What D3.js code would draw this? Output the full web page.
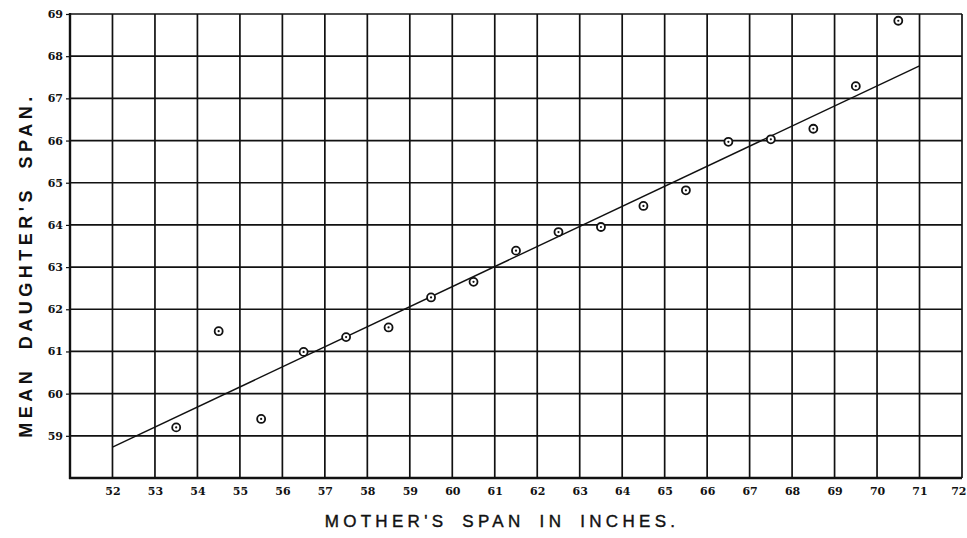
<!DOCTYPE html>
<html>
<head>
<meta charset="utf-8">
<script src="https://cdn.jsdelivr.net/npm/d3@7"></script>
<style>
  html, body { margin: 0; padding: 0; background: #fff; }
  svg { display: block; }
</style>
</head>
<body>
<script>
// Data
const motherSpan = [53.5, 54.5, 55.5, 56.5, 57.5, 58.5, 59.5, 60.5, 61.5, 62.5, 63.5, 64.5, 65.5, 66.5, 67.5, 68.5, 69.5, 70.5];
const daughterSpan = [59.20, 61.48, 59.40, 60.99, 61.34, 61.57, 62.28, 62.65, 63.39, 63.83, 63.95, 64.45, 64.82, 65.97, 66.03, 66.28, 67.29, 68.84];
const fitLineX = [52, 71];
const fitLineY = [58.73, 67.77];
const xTicks = [52, 53, 54, 55, 56, 57, 58, 59, 60, 61, 62, 63, 64, 65, 66, 67, 68, 69, 70, 71, 72];
const yTicks = [59, 60, 61, 62, 63, 64, 65, 66, 67, 68, 69];
const xTitle = "MOTHER'S SPAN IN INCHES.";
const yTitle = "MEAN DAUGHTER'S SPAN.";

const W = 967, H = 538;
const svg = d3.select("body").append("svg").attr("width", W).attr("height", H);

const x = d3.scaleLinear().domain([51, 72]).range([70, 962]);
const y = d3.scaleLinear().domain([58, 69]).range([478, 14]);

const ink = "#111";

// Grid lines
const g = svg.append("g");
g.selectAll("line.vx").data(xTicks).enter().append("line")
  .attr("x1", d => x(d)).attr("x2", d => x(d))
  .attr("y1", y(69)).attr("y2", y(58))
  .attr("stroke", ink).attr("stroke-width", 1.7);
g.selectAll("line.hy").data(yTicks).enter().append("line")
  .attr("x1", x(51)).attr("x2", x(72))
  .attr("y1", d => y(d)).attr("y2", d => y(d))
  .attr("stroke", ink).attr("stroke-width", 1.7);

// Border (left and bottom heavier)
svg.append("line").attr("x1", x(51)).attr("x2", x(51)).attr("y1", y(69) - 1).attr("y2", y(58) + 1)
  .attr("stroke", ink).attr("stroke-width", 2.4);
svg.append("line").attr("x1", x(51) - 1).attr("x2", x(72)).attr("y1", y(58)).attr("y2", y(58))
  .attr("stroke", ink).attr("stroke-width", 2.4);

// Axes (labels + short ticks)
const xAxis = d3.axisBottom(x).tickValues(xTicks).tickSize(0).tickPadding(9).tickFormat(d3.format("d"));
const xg = svg.append("g").attr("transform", `translate(0,${y(58)})`).call(xAxis);
xg.select(".domain").remove();
xg.selectAll("text").attr("font-family", "'DejaVu Serif', serif").attr("font-weight", "bold")
  .attr("font-size", 11).attr("fill", ink)
  .attr("text-anchor", d => d === 72 ? "end" : "middle")
  .attr("dx", d => d === 72 ? "4px" : 0);

const yAxis = d3.axisLeft(y).tickValues(yTicks).tickSize(4).tickPadding(3).tickFormat(d3.format("d"));
const yg = svg.append("g").attr("transform", `translate(${x(51)},0)`).call(yAxis);
yg.select(".domain").remove();
yg.selectAll("line").attr("stroke", ink).attr("stroke-width", 1.2);
yg.selectAll("text").attr("font-family", "'DejaVu Serif', serif").attr("font-weight", "bold")
  .attr("font-size", 11).attr("fill", ink);

// Regression line
svg.append("line")
  .attr("x1", x(fitLineX[0])).attr("y1", y(fitLineY[0]))
  .attr("x2", x(fitLineX[1])).attr("y2", y(fitLineY[1]))
  .attr("stroke", ink).attr("stroke-width", 1.4);

// Points: circle with centre dot
const pts = motherSpan.map((m, i) => ({ m, d: daughterSpan[i] }));
const pg = svg.append("g");
pg.selectAll("circle.o").data(pts).enter().append("circle")
  .attr("cx", p => x(p.m)).attr("cy", p => y(p.d)).attr("r", 4)
  .attr("fill", "#fff").attr("stroke", ink).attr("stroke-width", 1.8);
pg.selectAll("circle.c").data(pts).enter().append("circle")
  .attr("cx", p => x(p.m)).attr("cy", p => y(p.d)).attr("r", 1.1)
  .attr("fill", ink);

// Axis titles
svg.append("text")
  .attr("x", 502).attr("y", 527)
  .attr("text-anchor", "middle")
  .attr("font-family", "'Liberation Sans', Arial, sans-serif")
  .attr("font-size", 17)
  .attr("letter-spacing", "4.3px")
  .attr("word-spacing", "6px")
  .attr("fill", ink)
  .attr("stroke", ink).attr("stroke-width", 0.4)
  .text(xTitle);

svg.append("text")
  .attr("transform", "translate(32,265) rotate(-90)")
  .attr("text-anchor", "middle")
  .attr("font-family", "'Liberation Sans', Arial, sans-serif")
  .attr("font-weight", "bold")
  .attr("font-size", 18)
  .attr("letter-spacing", "4.5px")
  .attr("word-spacing", "8px")
  .attr("fill", ink)
  .text(yTitle);
</script>
</body>
</html>
